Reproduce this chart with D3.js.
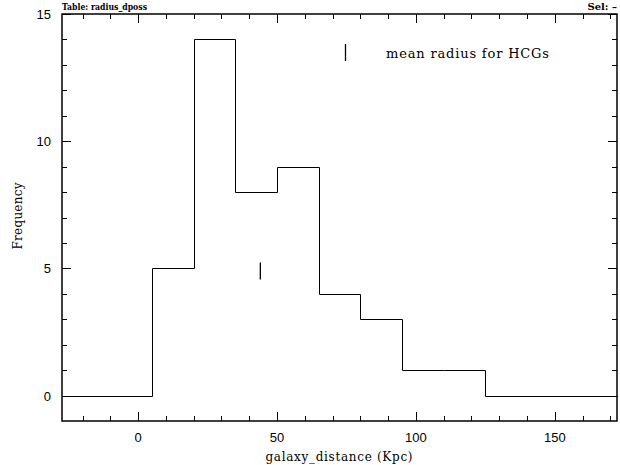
<!DOCTYPE html>
<html>
<head>
<meta charset="utf-8">
<script src="https://cdn.jsdelivr.net/npm/d3@7"></script>
<style>
  body { margin: 0; background: #fff; }
  svg { display: block; }
  .lbl { font-family: "DejaVu Serif", serif; fill: #000; }
  .tick-label { font-family: "Liberation Sans", Arial, sans-serif; font-size: 13px; fill: #000; }
</style>
</head>
<body>
<div id="chart"></div>
<script>
// histogram bins (galaxy_distance, Kpc)
const binEdges = [5, 20, 35, 50, 65, 80, 95, 110, 125];
const binCounts = [5, 14, 8, 9, 4, 3, 1, 1];

// mean radius marker
const meanRadius = 44;
const meanFreq = 4.9;

// axes
const xDomain = [-27.4, 172.4];
const yDomain = [-1, 15];
const xMajorTicks = [0, 50, 100, 150];
const yMajorTicks = [0, 5, 10, 15];

const outerWidth = 620;
const outerHeight = 465;
const frame = { left: 62, right: 617, top: 14, bottom: 421 };

const svg = d3
  .select("#chart")
  .append("svg")
  .attr("width", outerWidth)
  .attr("height", outerHeight);

const x = d3.scaleLinear().domain(xDomain).range([frame.left, frame.right]);
const y = d3.scaleLinear().domain(yDomain).range([frame.bottom, frame.top]);

// minor ticks every 10 / every 1
const xMinor = d3.range(-20, 171, 10).filter((v) => !xMajorTicks.includes(v));
const yMinor = d3.range(0, 16, 1).filter((v) => !yMajorTicks.includes(v));

const tickG = svg.append("g").attr("stroke", "#000").attr("stroke-width", 1);

// bottom + top ticks (inward)
function xTick(v, len) {
  tickG.append("line")
    .attr("x1", Math.round(x(v)) + 0.5).attr("x2", Math.round(x(v)) + 0.5)
    .attr("y1", frame.bottom).attr("y2", frame.bottom - len);
  tickG.append("line")
    .attr("x1", Math.round(x(v)) + 0.5).attr("x2", Math.round(x(v)) + 0.5)
    .attr("y1", frame.top).attr("y2", frame.top + len);
}
function yTick(v, len) {
  tickG.append("line")
    .attr("y1", Math.round(y(v)) + 0.5).attr("y2", Math.round(y(v)) + 0.5)
    .attr("x1", frame.left).attr("x2", frame.left + len);
  tickG.append("line")
    .attr("y1", Math.round(y(v)) + 0.5).attr("y2", Math.round(y(v)) + 0.5)
    .attr("x1", frame.right).attr("x2", frame.right - len);
}
xMajorTicks.forEach((v) => xTick(v, 9));
xMinor.forEach((v) => xTick(v, 5));
yMajorTicks.forEach((v) => yTick(v, 9));
yMinor.forEach((v) => yTick(v, 5));

// frame
svg.append("rect")
  .attr("x", frame.left)
  .attr("y", frame.top)
  .attr("width", frame.right - frame.left)
  .attr("height", frame.bottom - frame.top)
  .attr("fill", "none")
  .attr("stroke", "#000")
  .attr("stroke-width", 1.5);

// tick labels
svg.append("g")
  .selectAll("text")
  .data(xMajorTicks)
  .join("text")
  .attr("class", "tick-label")
  .attr("x", (d) => x(d))
  .attr("y", 442)
  .attr("text-anchor", "middle")
  .text((d) => d);

svg.append("g")
  .selectAll("text")
  .data(yMajorTicks)
  .join("text")
  .attr("class", "tick-label")
  .attr("x", 51)
  .attr("y", (d) => y(d) + 5)
  .attr("text-anchor", "end")
  .text((d) => d);

// histogram steps
const steps = [[xDomain[0], 0], [binEdges[0], 0]];
binCounts.forEach((c, i) => {
  steps.push([binEdges[i], c]);
  steps.push([binEdges[i + 1], c]);
});
steps.push([binEdges[binEdges.length - 1], 0]);
steps.push([xDomain[1], 0]);

svg.append("path")
  .datum(steps)
  .attr("fill", "none")
  .attr("stroke", "#000")
  .attr("stroke-width", 1)
  .attr("d", d3.line().x((d) => Math.round(x(d[0])) + 0.5).y((d) => Math.round(y(d[1])) + 0.5));

// mean marker
svg.append("line")
  .attr("x1", x(meanRadius)).attr("x2", x(meanRadius))
  .attr("y1", y(meanFreq) - 8.5).attr("y2", y(meanFreq) + 8.5)
  .attr("stroke", "#000")
  .attr("stroke-width", 1.3);

// legend
svg.append("line")
  .attr("x1", 345.5).attr("x2", 345.5)
  .attr("y1", 44).attr("y2", 61)
  .attr("stroke", "#000")
  .attr("stroke-width", 1.3);
svg.append("text")
  .attr("class", "lbl")
  .attr("x", 386)
  .attr("y", 58)
  .attr("font-size", 13)
  .attr("textLength", 163)
  .attr("lengthAdjust", "spacing")
  .text("mean radius for HCGs");

// header texts
svg.append("text")
  .attr("class", "lbl")
  .attr("x", 62)
  .attr("y", 10)
  .attr("font-size", 10)
  .attr("font-weight", "bold")
  .attr("textLength", 85)
  .attr("lengthAdjust", "spacingAndGlyphs")
  .text("Table: radius_dposs");
svg.append("text")
  .attr("class", "lbl")
  .attr("x", 617)
  .attr("y", 10)
  .attr("text-anchor", "end")
  .attr("font-size", 10)
  .attr("font-weight", "bold")
  .text("Sel: –");

// axis titles
svg.append("text")
  .attr("class", "lbl")
  .attr("x", 339)
  .attr("y", 461)
  .attr("text-anchor", "middle")
  .attr("font-size", 12)
  .attr("textLength", 147)
  .attr("lengthAdjust", "spacing")
  .text("galaxy_distance (Kpc)");

svg.append("text")
  .attr("class", "lbl")
  .attr("transform", "translate(22,216) rotate(-90)")
  .attr("text-anchor", "middle")
  .attr("font-size", 12)
  .attr("textLength", 67)
  .attr("lengthAdjust", "spacing")
  .text("Frequency");
</script>
</body>
</html>
